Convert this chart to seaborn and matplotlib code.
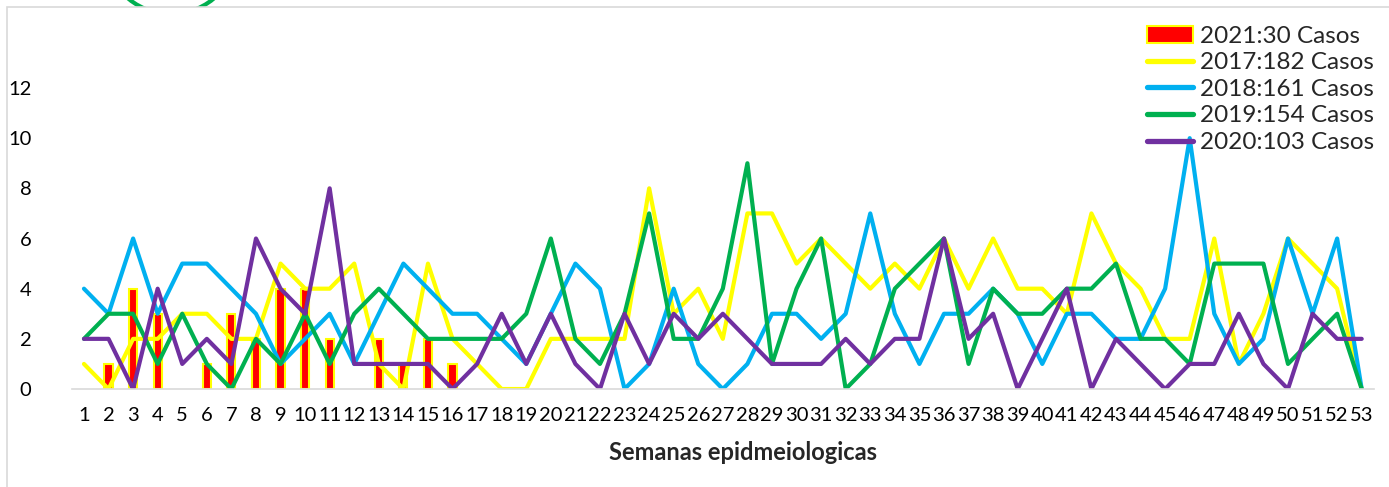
import matplotlib
matplotlib.use("Agg")
import numpy as np
import pandas as pd
import seaborn as sns
import matplotlib.pyplot as plt
from matplotlib.patches import Patch, Rectangle, Circle
from matplotlib.lines import Line2D
from matplotlib.transforms import IdentityTransform

weeks = list(range(1, 54))

# 2021 (bars, only first weeks reported)
cases_2021 = [0, 1, 4, 3, 0, 1, 3, 2, 4, 4, 2, 0, 2, 1, 2, 1] + [0] * 37

cases_2017 = [1, 0, 2, 2, 3, 3, 2, 2, 5, 4, 4, 5, 1, 0, 5, 2, 1,
              0, 0, 2, 2, 2, 2, 8, 3, 4, 2, 7, 7, 5, 6, 5, 4, 5, 4,
              6, 4, 6, 4, 4, 3, 7, 5, 4, 2, 2, 6, 1, 3, 6, 5, 4, 0]
cases_2018 = [4, 3, 6, 3, 5, 5, 4, 3, 1, 2, 3, 1, 3, 5, 4, 3, 3,
              2, 1, 3, 5, 4, 0, 1, 4, 1, 0, 1, 3, 3, 2, 3, 7, 3, 1,
              3, 3, 4, 3, 1, 3, 3, 2, 2, 4, 10, 3, 1, 2, 6, 3, 6, 0]
cases_2019 = [2, 3, 3, 1, 3, 1, 0, 2, 1, 3, 1, 3, 4, 3, 2, 2, 2,
              2, 3, 6, 2, 1, 3, 7, 2, 2, 4, 9, 1, 4, 6, 0, 1, 4, 5,
              6, 1, 4, 3, 3, 4, 4, 5, 2, 2, 1, 5, 5, 5, 1, 2, 3, 0]
cases_2020 = [2, 2, 0, 4, 1, 2, 1, 6, 4, 3, 8, 1, 1, 1, 1, 0, 1,
              3, 1, 3, 1, 0, 3, 1, 3, 2, 3, 2, 1, 1, 1, 2, 1, 2, 2,
              6, 2, 3, 0, 2, 4, 0, 2, 1, 0, 1, 1, 3, 1, 0, 3, 2, 2]

series_labels = ["2017:182 Casos", "2018:161 Casos", "2019:154 Casos", "2020:103 Casos"]
series_values = [cases_2017, cases_2018, cases_2019, cases_2020]
series_colors = ["#FFFF00", "#00B0F0", "#00B050", "#7030A0"]
bar_label = "2021:30 Casos"

lines_df = pd.concat([
    pd.DataFrame({"pos": np.arange(len(weeks)), "casos": vals, "serie": lab})
    for lab, vals in zip(series_labels, series_values)
])

sns.set_style("white")
plt.rcParams["font.family"] = ["Lato", "DejaVu Sans"]

fig = plt.figure(figsize=(13.89, 4.87), dpi=100)

# partially hidden logo and chart frame
fig.add_artist(Circle((171, 487 + 53), 67, transform=IdentityTransform(),
                      fill=False, edgecolor="#00B050", linewidth=3, zorder=-2))
fig.add_artist(Rectangle((0.005, -0.1), 1.2, 1.0856, transform=fig.transFigure,
                         facecolor="white", edgecolor="#D9D9D9", linewidth=1.2, zorder=-1))

ax = fig.add_axes([0.0516, 0.2012, 0.9376, 0.6181])
ax.set_facecolor("none")

sns.barplot(x=[str(w) for w in weeks], y=cases_2021, color="#FF0000",
            edgecolor="#FFFF00", linewidth=1.5, width=0.33, saturation=1, ax=ax)
for p in ax.patches:
    if p.get_height() == 0:
        p.set_visible(False)

sns.lineplot(data=lines_df, x="pos", y="casos", hue="serie",
             palette=dict(zip(series_labels, series_colors)),
             linewidth=3, sort=False, legend=False, ax=ax)

ax.set_xlim(-0.5, len(weeks) - 0.5)
ax.set_ylim(0, 12)
ax.set_yticks(range(0, 13, 2))
ax.set_xticks(range(len(weeks)))
ax.set_xticklabels([str(w) for w in weeks])
ax.tick_params(axis="both", length=0, labelsize=14.5, colors="black")
ax.tick_params(axis="y", pad=29)
ax.tick_params(axis="x", pad=13)

for s in ["top", "right", "left"]:
    ax.spines[s].set_visible(False)
ax.spines["bottom"].set_color("#D9D9D9")
ax.spines["bottom"].set_linewidth(1.2)

ax.set_ylabel("")
ax.set_xlabel("Semanas epidmeiologicas", fontsize=17, fontweight="bold", va="center")
ax.xaxis.set_label_coords(0.5155, -0.212)

handles = [Patch(facecolor="#FF0000", edgecolor="#FFFF00", linewidth=1.5, label=bar_label)]
handles += [Line2D([0], [0], color=c, linewidth=3.8, label=l)
            for c, l in zip(series_colors, series_labels)]
ax.legend(handles=handles, loc="upper right", bbox_to_anchor=(1, 1 - 11 / 487),
          bbox_transform=fig.transFigure, frameon=False, fontsize=17.5,
          handlelength=1.9, handletextpad=0.3, labelspacing=0.23, borderaxespad=0.2)

fig.savefig("out.png", dpi=100)
